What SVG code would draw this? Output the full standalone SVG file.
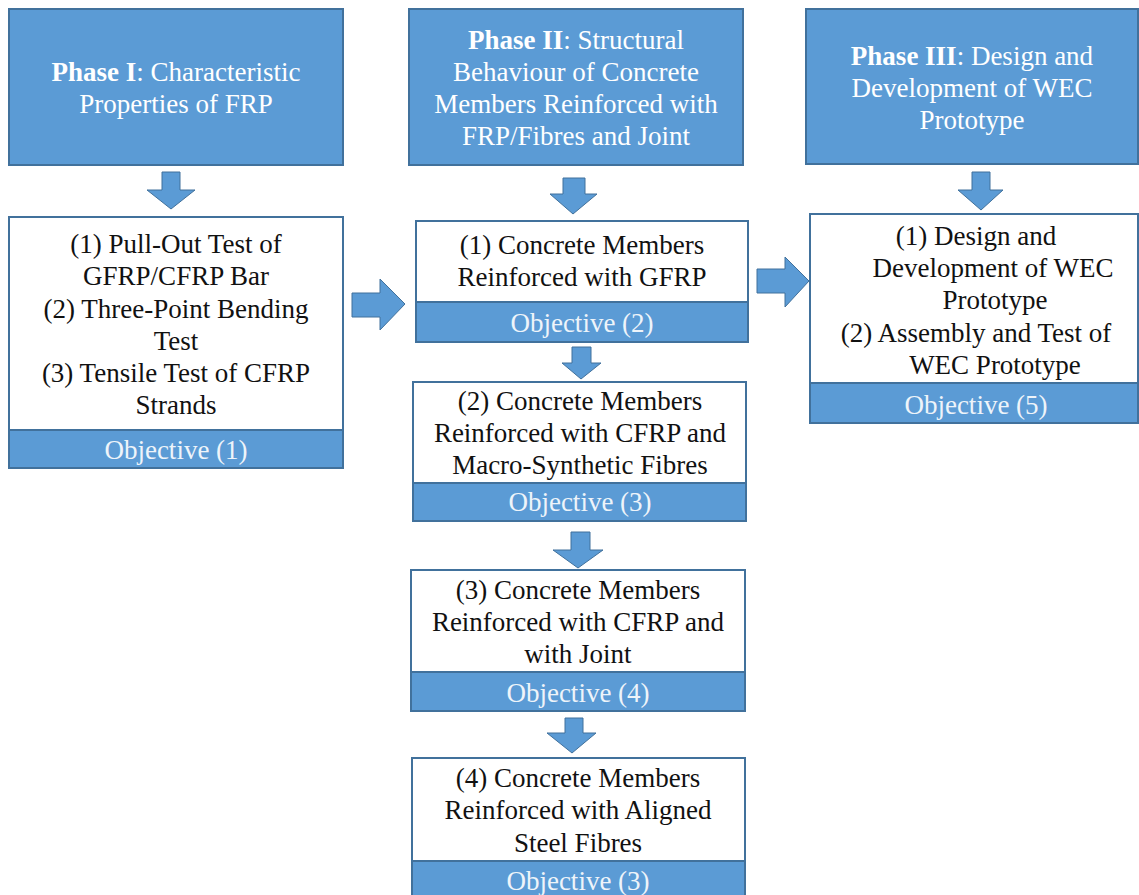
<svg xmlns="http://www.w3.org/2000/svg" width="1139" height="895" viewBox="0 0 1139 895" font-family="Liberation Serif, Times New Roman, serif">
<style>
.hdr{fill:#5B9BD5;stroke:#41719C;stroke-width:2}
.body{fill:#ffffff;stroke:#41719C;stroke-width:2}
.obj{fill:#5B9BD5;stroke:#41719C;stroke-width:2}
.arr{fill:#5B9BD5;stroke:#41719C;stroke-width:1}
text{font-size:27px;text-anchor:middle}
.w{fill:#ffffff}
.o{fill:#EEF4FA}
.k{fill:#111111}
.b{font-weight:bold}
</style>
<rect width="1139" height="895" fill="#ffffff"/>
<g id="phase1">
<rect class="hdr" x="9" y="9" width="334" height="156"/>
<text class="w" x="176" y="81"><tspan class="b">Phase I</tspan>: Characteristic</text>
<text class="w" x="176" y="113">Properties of FRP</text>
</g>
<g id="phase2">
<rect class="hdr" x="409" y="9" width="334" height="156"/>
<text class="w" x="576" y="49"><tspan class="b">Phase II</tspan>: Structural</text>
<text class="w" x="576" y="81">Behaviour of Concrete</text>
<text class="w" x="576" y="113">Members Reinforced with</text>
<text class="w" x="576" y="145">FRP/Fibres and Joint</text>
</g>
<g id="phase3">
<rect class="hdr" x="806" y="9" width="332" height="155"/>
<text class="w" x="972" y="65"><tspan class="b">Phase III</tspan>: Design and</text>
<text class="w" x="972" y="97">Development of WEC</text>
<text class="w" x="972" y="129">Prototype</text>
</g>
<g id="p1tests">
<rect class="body" x="9" y="217" width="334" height="213"/>
<rect class="obj" x="9" y="430" width="334" height="38"/>
<text class="k" x="176" y="253">(1) Pull-Out Test of</text>
<text class="k" x="176" y="285">GFRP/CFRP Bar</text>
<text class="k" x="176" y="318">(2) Three-Point Bending</text>
<text class="k" x="176" y="350">Test</text>
<text class="k" x="176" y="382">(3) Tensile Test of CFRP</text>
<text class="k" x="176" y="414">Strands</text>
<text class="o" x="176" y="459">Objective (1)</text>
</g>
<g id="p2box1">
<rect class="body" x="416" y="221" width="332" height="81"/>
<rect class="obj" x="416" y="302" width="332" height="40"/>
<text class="k" x="582" y="254">(1) Concrete Members</text>
<text class="k" x="582" y="286">Reinforced with GFRP</text>
<text class="o" x="582" y="332">Objective (2)</text>
</g>
<g id="p2box2">
<rect class="body" x="413" y="382" width="333" height="101"/>
<rect class="obj" x="413" y="483" width="333" height="38"/>
<text class="k" x="580" y="410">(2) Concrete Members</text>
<text class="k" x="580" y="442">Reinforced with CFRP and</text>
<text class="k" x="580" y="474">Macro-Synthetic Fibres</text>
<text class="o" x="580" y="511">Objective (3)</text>
</g>
<g id="p2box3">
<rect class="body" x="411" y="570" width="334" height="102"/>
<rect class="obj" x="411" y="672" width="334" height="39"/>
<text class="k" x="578" y="599">(3) Concrete Members</text>
<text class="k" x="578" y="631">Reinforced with CFRP and</text>
<text class="k" x="578" y="663">with Joint</text>
<text class="o" x="578" y="702">Objective (4)</text>
</g>
<g id="p2box4">
<rect class="body" x="412" y="758" width="333" height="103"/>
<rect class="obj" x="412" y="861" width="333" height="40"/>
<text class="k" x="578" y="787">(4) Concrete Members</text>
<text class="k" x="578" y="819">Reinforced with Aligned</text>
<text class="k" x="578" y="852">Steel Fibres</text>
<text class="o" x="578" y="890">Objective (3)</text>
</g>
<g id="p3box">
<rect class="body" x="810" y="214" width="328" height="169"/>
<rect class="obj" x="810" y="383" width="328" height="40"/>
<text class="k" x="976" y="245">(1) Design and</text>
<text class="k" x="993" y="277">Development of WEC</text>
<text class="k" x="995" y="309">Prototype</text>
<text class="k" x="976" y="342">(2) Assembly and Test of</text>
<text class="k" x="995" y="374">WEC Prototype</text>
<text class="o" x="976" y="414">Objective (5)</text>
</g>
<g id="connectors">
<polygon class="arr" points="162,172 180,172 180,190 195,190 171,209 147,190 162,190"/>
<polygon class="arr" points="563,178 585,178 585,194 597,194 573,214 550,194 563,194"/>
<polygon class="arr" points="972,172 990,172 990,190 1003,190 981,210 958,190 972,190"/>
<polygon class="arr" points="352,293 380,293 380,279 405,304 380,330 380,317 352,317"/>
<polygon class="arr" points="757,269 785,269 785,257 809,281 785,307 785,293 757,293"/>
<polygon class="arr" points="572,347 591,347 591,363 601,363 581,379 562,363 572,363"/>
<polygon class="arr" points="571,532 590,532 590,550 603,550 578,568 553,550 571,550"/>
<polygon class="arr" points="565,718 583,718 583,733 596,733 572,753 547,733 565,733"/>
</g>
</svg>
